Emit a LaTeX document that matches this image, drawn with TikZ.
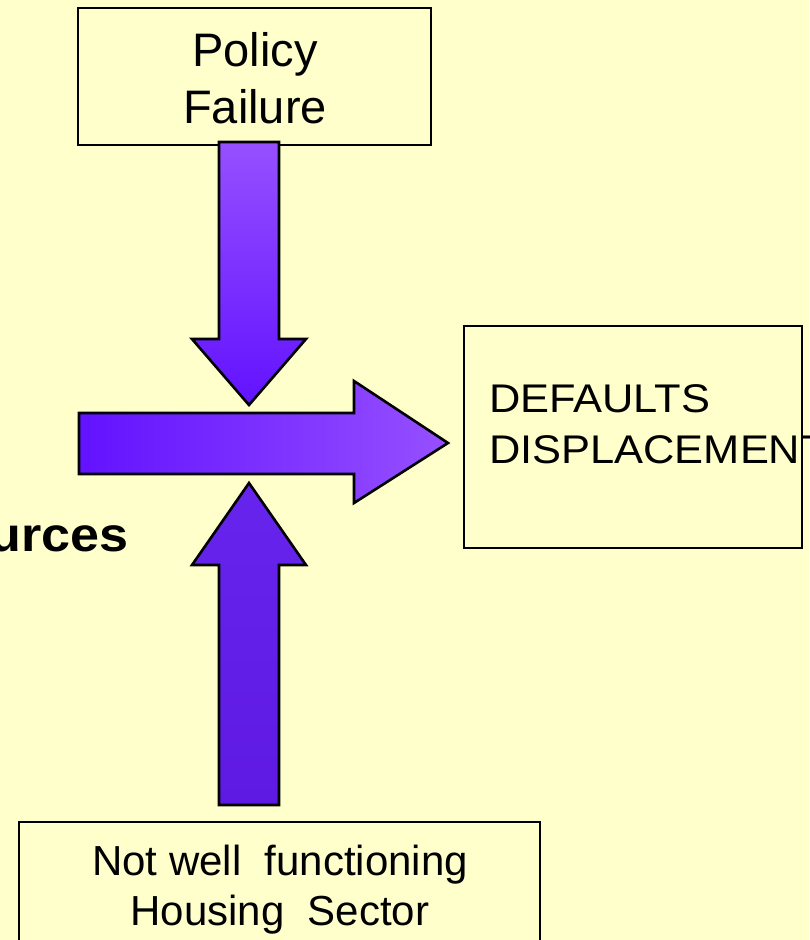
\documentclass[tikz,border=0pt]{standalone}
\usepackage{fontspec}
\usepackage{graphicx}
\setmainfont{Liberation Sans}
\definecolor{paper}{HTML}{FFFFCC}
\definecolor{violetA}{HTML}{9650FF}
\definecolor{violetB}{HTML}{6212FF}
\definecolor{violetC}{HTML}{5E1AE2}
\definecolor{violetD}{HTML}{6624EC}
\tikzset{
  labelbox/.style={draw=black, line width=2.6pt, fill=none},
  blockarrow/.style={draw=black, line width=2.6pt, line join=miter},
  boxtext/.style={inner sep=0pt, align=center, text=black},
}
\begin{document}
\begin{tikzpicture}[x=1pt,y=-1pt]
  \useasboundingbox (0,0) rectangle (809,940);
  \fill[paper] (0,0) rectangle (809,940);

  % frames
  \draw[labelbox] (78,8) rectangle (431,145);
  \draw[labelbox] (464,326) rectangle (802,548);
  \draw[labelbox] (19,822) rectangle (540,980);

  % texts
  \node[boxtext, anchor=north, font=\fontsize{47}{57}\selectfont] (policy) at (255,32)
    {Policy\\Failure};
  \node[boxtext, anchor=north west, font=\fontsize{40}{51}\selectfont] (defaults) at (489,376.3)
    {\scalebox{1.085}[1]{\begin{tabular}{@{}l@{}}DEFAULTS\\DISPLACEMENT\end{tabular}}};
  \node[boxtext, anchor=north, font=\fontsize{42}{50}\selectfont] (housing) at (280,845)
    {Not well\ \ functioning\\Housing\ \ Sector};
  \node[boxtext, anchor=base west, font=\fontsize{48}{56}\selectfont\bfseries] (sources) at (-11,551)
    {\scalebox{1.085}[1]{urces}};

  % downward block arrow
  \coordinate (dtip) at (249,405);
  \shade[top color=violetA, bottom color=violetB]
    (219,142) -- (279,142) -- (279,339) -- (306,339) -- (dtip) -- (192,339) -- (219,339) -- cycle;
  \draw[blockarrow]
    (219,142) -- (279,142) -- (279,339) -- (306,339) -- (dtip) -- (192,339) -- (219,339) -- cycle;

  % horizontal block arrow
  \coordinate (htip) at (448,443);
  \shade[left color=violetB, right color=violetA]
    (79,413) -- (354,413) -- (354,381) -- (htip) -- (354,503) -- (354,474) -- (79,474) -- cycle;
  \draw[blockarrow]
    (79,413) -- (354,413) -- (354,381) -- (htip) -- (354,503) -- (354,474) -- (79,474) -- cycle;

  % upward block arrow
  \coordinate (utip) at (249,483);
  \shade[top color=violetD, bottom color=violetC]
    (utip) -- (306,565) -- (279,565) -- (279,805) -- (219,805) -- (219,565) -- (192,565) -- cycle;
  \draw[blockarrow]
    (utip) -- (306,565) -- (279,565) -- (279,805) -- (219,805) -- (219,565) -- (192,565) -- cycle;
\end{tikzpicture}
\end{document}
